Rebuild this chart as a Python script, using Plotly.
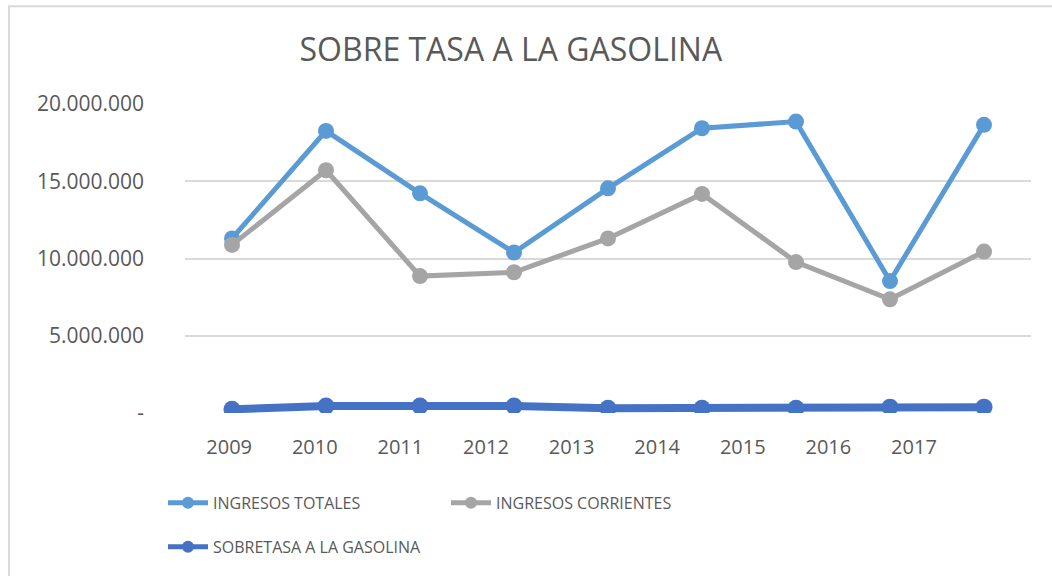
"""Sobretasa a la gasolina: ingresos totales, corrientes y sobretasa (2009-2017)."""
import plotly.graph_objects as go

YEARS = ["2009", "2010", "2011", "2012", "2013", "2014", "2015", "2016", "2017"]

# valores (pesos)
INGRESOS_TOTALES = [11_300_000, 18_260_000, 14_220_000, 10_390_000, 14_540_000,
                    18_430_000, 18_860_000, 8_540_000, 18_650_000]
INGRESOS_CORRIENTES = [10_880_000, 15_710_000, 8_860_000, 9_110_000, 11_300_000,
                       14_180_000, 9_770_000, 7_360_000, 10_450_000]
SOBRETASA = [240_000, 450_000, 450_000, 450_000, 300_000,
             300_000, 300_000, 380_000, 380_000]

Y_TICKS = [0, 5_000_000, 10_000_000, 15_000_000, 20_000_000]
Y_TICK_TEXT = ["-", "5.000.000", "10.000.000", "15.000.000", "20.000.000"]

# en el original las etiquetas del eje X no caen sobre los puntos
X_LABEL_SHIFT = -0.03
X_LABEL_STEP = 0.9106

TEXT = "#595959"
GRID = "#D9D9D9"

x_idx = list(range(len(YEARS)))

fig = go.Figure()
fig.add_trace(go.Scatter(
    x=x_idx, y=INGRESOS_TOTALES, name="INGRESOS TOTALES", mode="lines+markers",
    line=dict(color="#5B9BD5", width=5), marker=dict(size=16, color="#5B9BD5"),
    legend="legend",
))
fig.add_trace(go.Scatter(
    x=x_idx, y=INGRESOS_CORRIENTES, name="INGRESOS CORRIENTES", mode="lines+markers",
    line=dict(color="#A5A5A5", width=5), marker=dict(size=16, color="#A5A5A5"),
    legend="legend",
))
fig.add_trace(go.Scatter(
    x=x_idx, y=SOBRETASA, name="SOBRETASA A LA GASOLINA", mode="lines+markers",
    line=dict(color="#4472C4", width=8), marker=dict(size=17, color="#4472C4"),
    legend="legend2",
))

legend_common = dict(
    orientation="h", xref="paper", x=-0.026, xanchor="left", yanchor="middle",
    font=dict(family="Open Sans", size=16, color=TEXT),
    itemwidth=40, itemsizing="constant", bgcolor="rgba(0,0,0,0)",
)

fig.update_layout(
    width=1052, height=576,
    margin=dict(l=185, r=21, t=104, b=159),
    paper_bgcolor="white", plot_bgcolor="white",
    font=dict(family="Open Sans", color=TEXT),
    title=dict(text="SOBRE TASA A LA GASOLINA", xref="container", x=0.4856,
               xanchor="center", yref="container", y=0.913, yanchor="middle",
               font=dict(size=32, color=TEXT)),
    legend=dict(**legend_common, y=-0.291, entrywidth=228),
    legend2=dict(**legend_common, y=-0.433),
    shapes=[dict(type="rect", xref="paper", yref="paper",
                 x0=-0.208, x1=1.2, y0=-1.0, y1=1.3163,
                 line=dict(color=GRID, width=2), fillcolor="rgba(0,0,0,0)",
                 layer="below")],
)
fig.update_xaxes(
    range=[-0.5, 8.5], showgrid=False, zeroline=False, showline=False,
    tickmode="array",
    tickvals=[X_LABEL_SHIFT + X_LABEL_STEP * i for i in range(len(YEARS))],
    ticktext=YEARS, tickfont=dict(size=20, color=TEXT), ticklabelstandoff=20,
)
fig.update_yaxes(
    range=[0, 20_000_000], tickmode="array", tickvals=Y_TICKS, ticktext=Y_TICK_TEXT,
    showgrid=True, gridcolor=GRID, gridwidth=1.5, zeroline=False, showline=False,
    tickfont=dict(size=21, color=TEXT), ticklabelstandoff=40,
)

# quitar el margen por defecto del <body> para que el gráfico quede en (0, 0)
fig.write_html("out.html", config={"displayModeBar": False},
               post_script="document.body.style.margin = '0';")
